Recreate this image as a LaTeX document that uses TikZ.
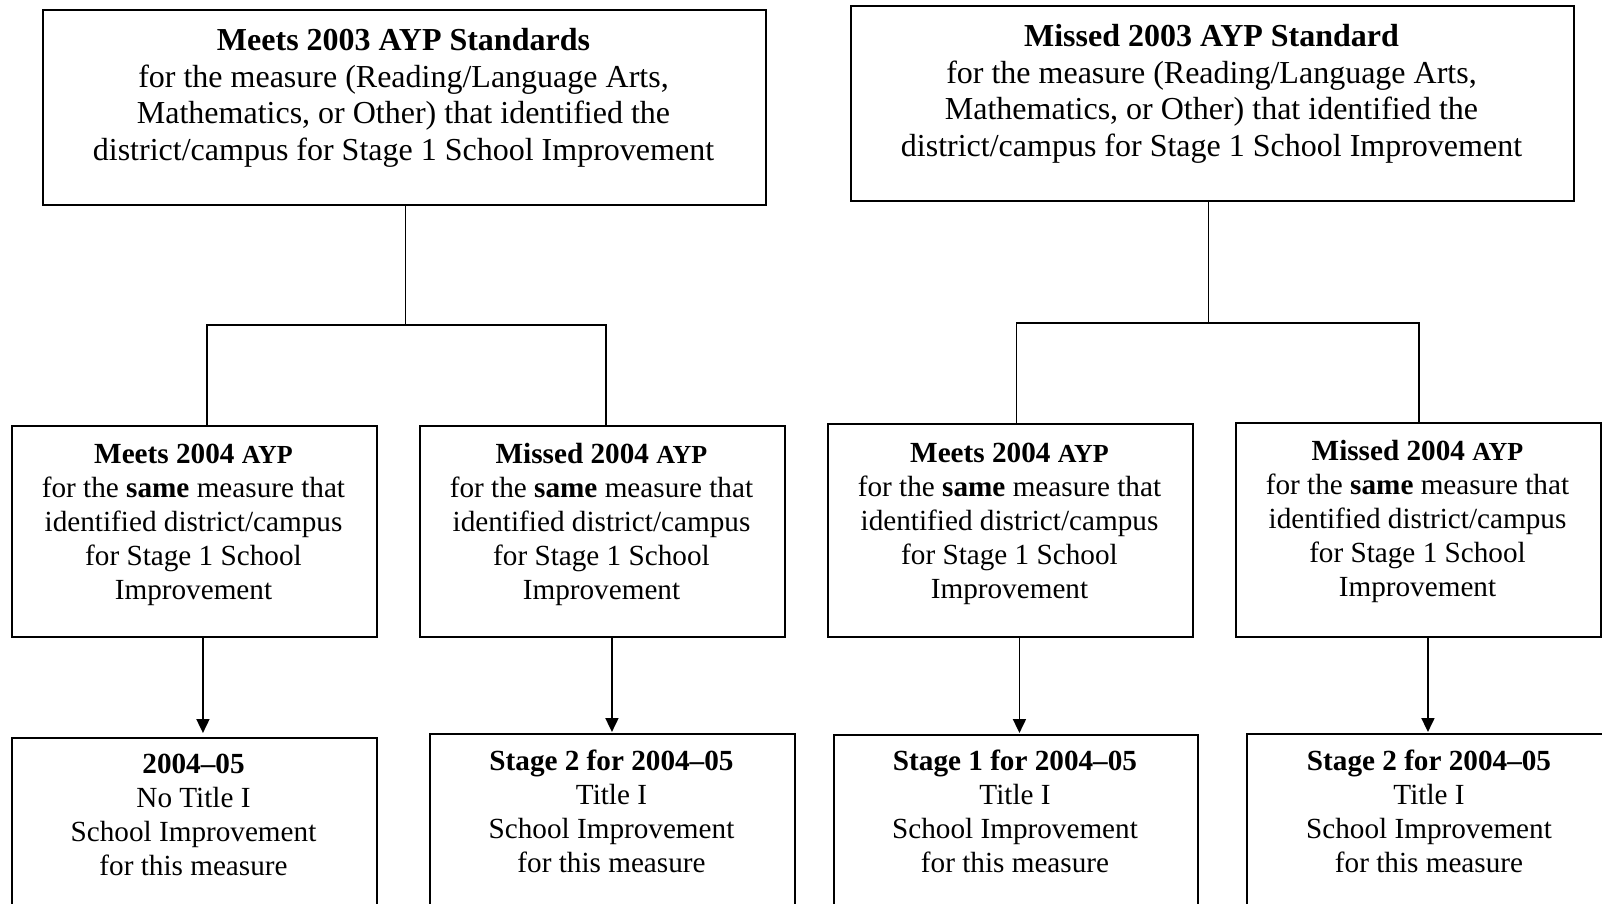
\documentclass[tikz,border=0pt]{standalone}
\usepackage{fontspec}
\setmainfont{Liberation Serif}
\usetikzlibrary{arrows.meta}
\newcommand{\fl}{\rule{0pt}{30pt}}
\newcommand{\sm}[1]{{\fontsize{26}{34}\selectfont #1}}
\begin{document}
\begin{tikzpicture}[x=1pt,y=-1pt,
  box/.style={draw, line width=1.9pt, inner sep=0pt, anchor=north west},
  toptext/.style={anchor=north, inner sep=0pt, align=center, font=\fontsize{32}{36.8}\selectfont},
  subtext/.style={anchor=north, inner sep=0pt, align=center, font=\fontsize{29.2}{34}\selectfont},
  conn/.style={line width=1.8pt},
  arr/.style={line width=1.8pt, -{Triangle[length=14pt,width=13pt]}, shorten >=1pt}]
\clip (0,0) rectangle (1602,903);
% top boxes
\node[box, minimum width=723pt, minimum height=195pt] (tl) at (42,9) {};
\node[box, minimum width=723pt, minimum height=195pt] (tr) at (850,5) {};
\node[toptext] (tlt) at (403.5,20) {\fl\textbf{Meets 2003 AYP Standards}\\for the measure (Reading/Language Arts,\\Mathematics, or Other) that identified the\\district/campus for Stage 1 School Improvement};
\node[toptext] (trt) at (1211.5,16) {\fl\textbf{Missed 2003 AYP Standard}\\for the measure (Reading/Language Arts,\\Mathematics, or Other) that identified the\\district/campus for Stage 1 School Improvement};
% middle boxes
\node[box, minimum width=365pt, minimum height=211pt] (a) at (11,425) {};
\node[box, minimum width=365pt, minimum height=211pt] (b) at (419,425) {};
\node[box, minimum width=365pt, minimum height=213pt] (c) at (827,423) {};
\node[box, minimum width=365pt, minimum height=214pt] (d) at (1235,422) {};
\node[subtext] (at) at (193.5,433) {\fl\textbf{Meets 2004 \sm{AYP}}\\for the \textbf{same} measure that\\identified district/campus\\for Stage 1 School\\Improvement};
\node[subtext] (bt) at (601.5,433) {\fl\textbf{Missed 2004 \sm{AYP}}\\for the \textbf{same} measure that\\identified district/campus\\for Stage 1 School\\Improvement};
\node[subtext] (ct) at (1009.5,432) {\fl\textbf{Meets 2004 \sm{AYP}}\\for the \textbf{same} measure that\\identified district/campus\\for Stage 1 School\\Improvement};
\node[subtext] (dt) at (1417.5,430) {\fl\textbf{Missed 2004 \sm{AYP}}\\for the \textbf{same} measure that\\identified district/campus\\for Stage 1 School\\Improvement};
% bottom boxes
\node[box, minimum width=365pt, minimum height=190pt] (e) at (11,737) {};
\node[box, minimum width=365pt, minimum height=190pt] (f) at (429,733) {};
\node[box, minimum width=364pt, minimum height=190pt] (g) at (833,734) {};
\node[box, minimum width=370pt, minimum height=190pt] (h) at (1246,733) {};
\node[subtext] (et) at (193.5,743) {\fl\textbf{2004--05}\\No Title I\\School Improvement\\for this measure};
\node[subtext] (ft) at (611.5,740) {\fl\textbf{Stage 2 for 2004--05}\\Title I\\School Improvement\\for this measure};
\node[subtext] (gt) at (1015,740) {\fl\textbf{Stage 1 for 2004--05}\\Title I\\School Improvement\\for this measure};
\node[subtext] (ht) at (1429,740) {\fl\textbf{Stage 2 for 2004--05}\\Title I\\School Improvement\\for this measure};
% tree connectors
\coordinate (jl) at ([xshift=1pt]tl.south |- 0,325);
\coordinate (jr) at ([xshift=-4pt]tr.south |- 0,323);
\draw[conn] ([xshift=1pt]tl.south) -- (jl);
\draw[conn] ([xshift=12.5pt]a.north) |- (jl) -| ([xshift=3.5pt]b.north);
\draw[conn] ([xshift=-4pt]tr.south) -- (jr);
\draw[conn] ([xshift=6pt]c.north) |- (jr) -| ([xshift=0.5pt]d.north);
% arrows
\draw[arr, shorten >=4pt] ([xshift=8.5pt]a.south) -- ([xshift=8.5pt]a.south |- e.north);
\draw[arr] ([xshift=9.5pt]b.south) -- ([xshift=9.5pt]b.south |- f.north);
\draw[arr] ([xshift=9pt]c.south) -- ([xshift=9pt]c.south |- g.north);
\draw[arr] ([xshift=9.5pt]d.south) -- ([xshift=9.5pt]d.south |- h.north);
\end{tikzpicture}
\end{document}
